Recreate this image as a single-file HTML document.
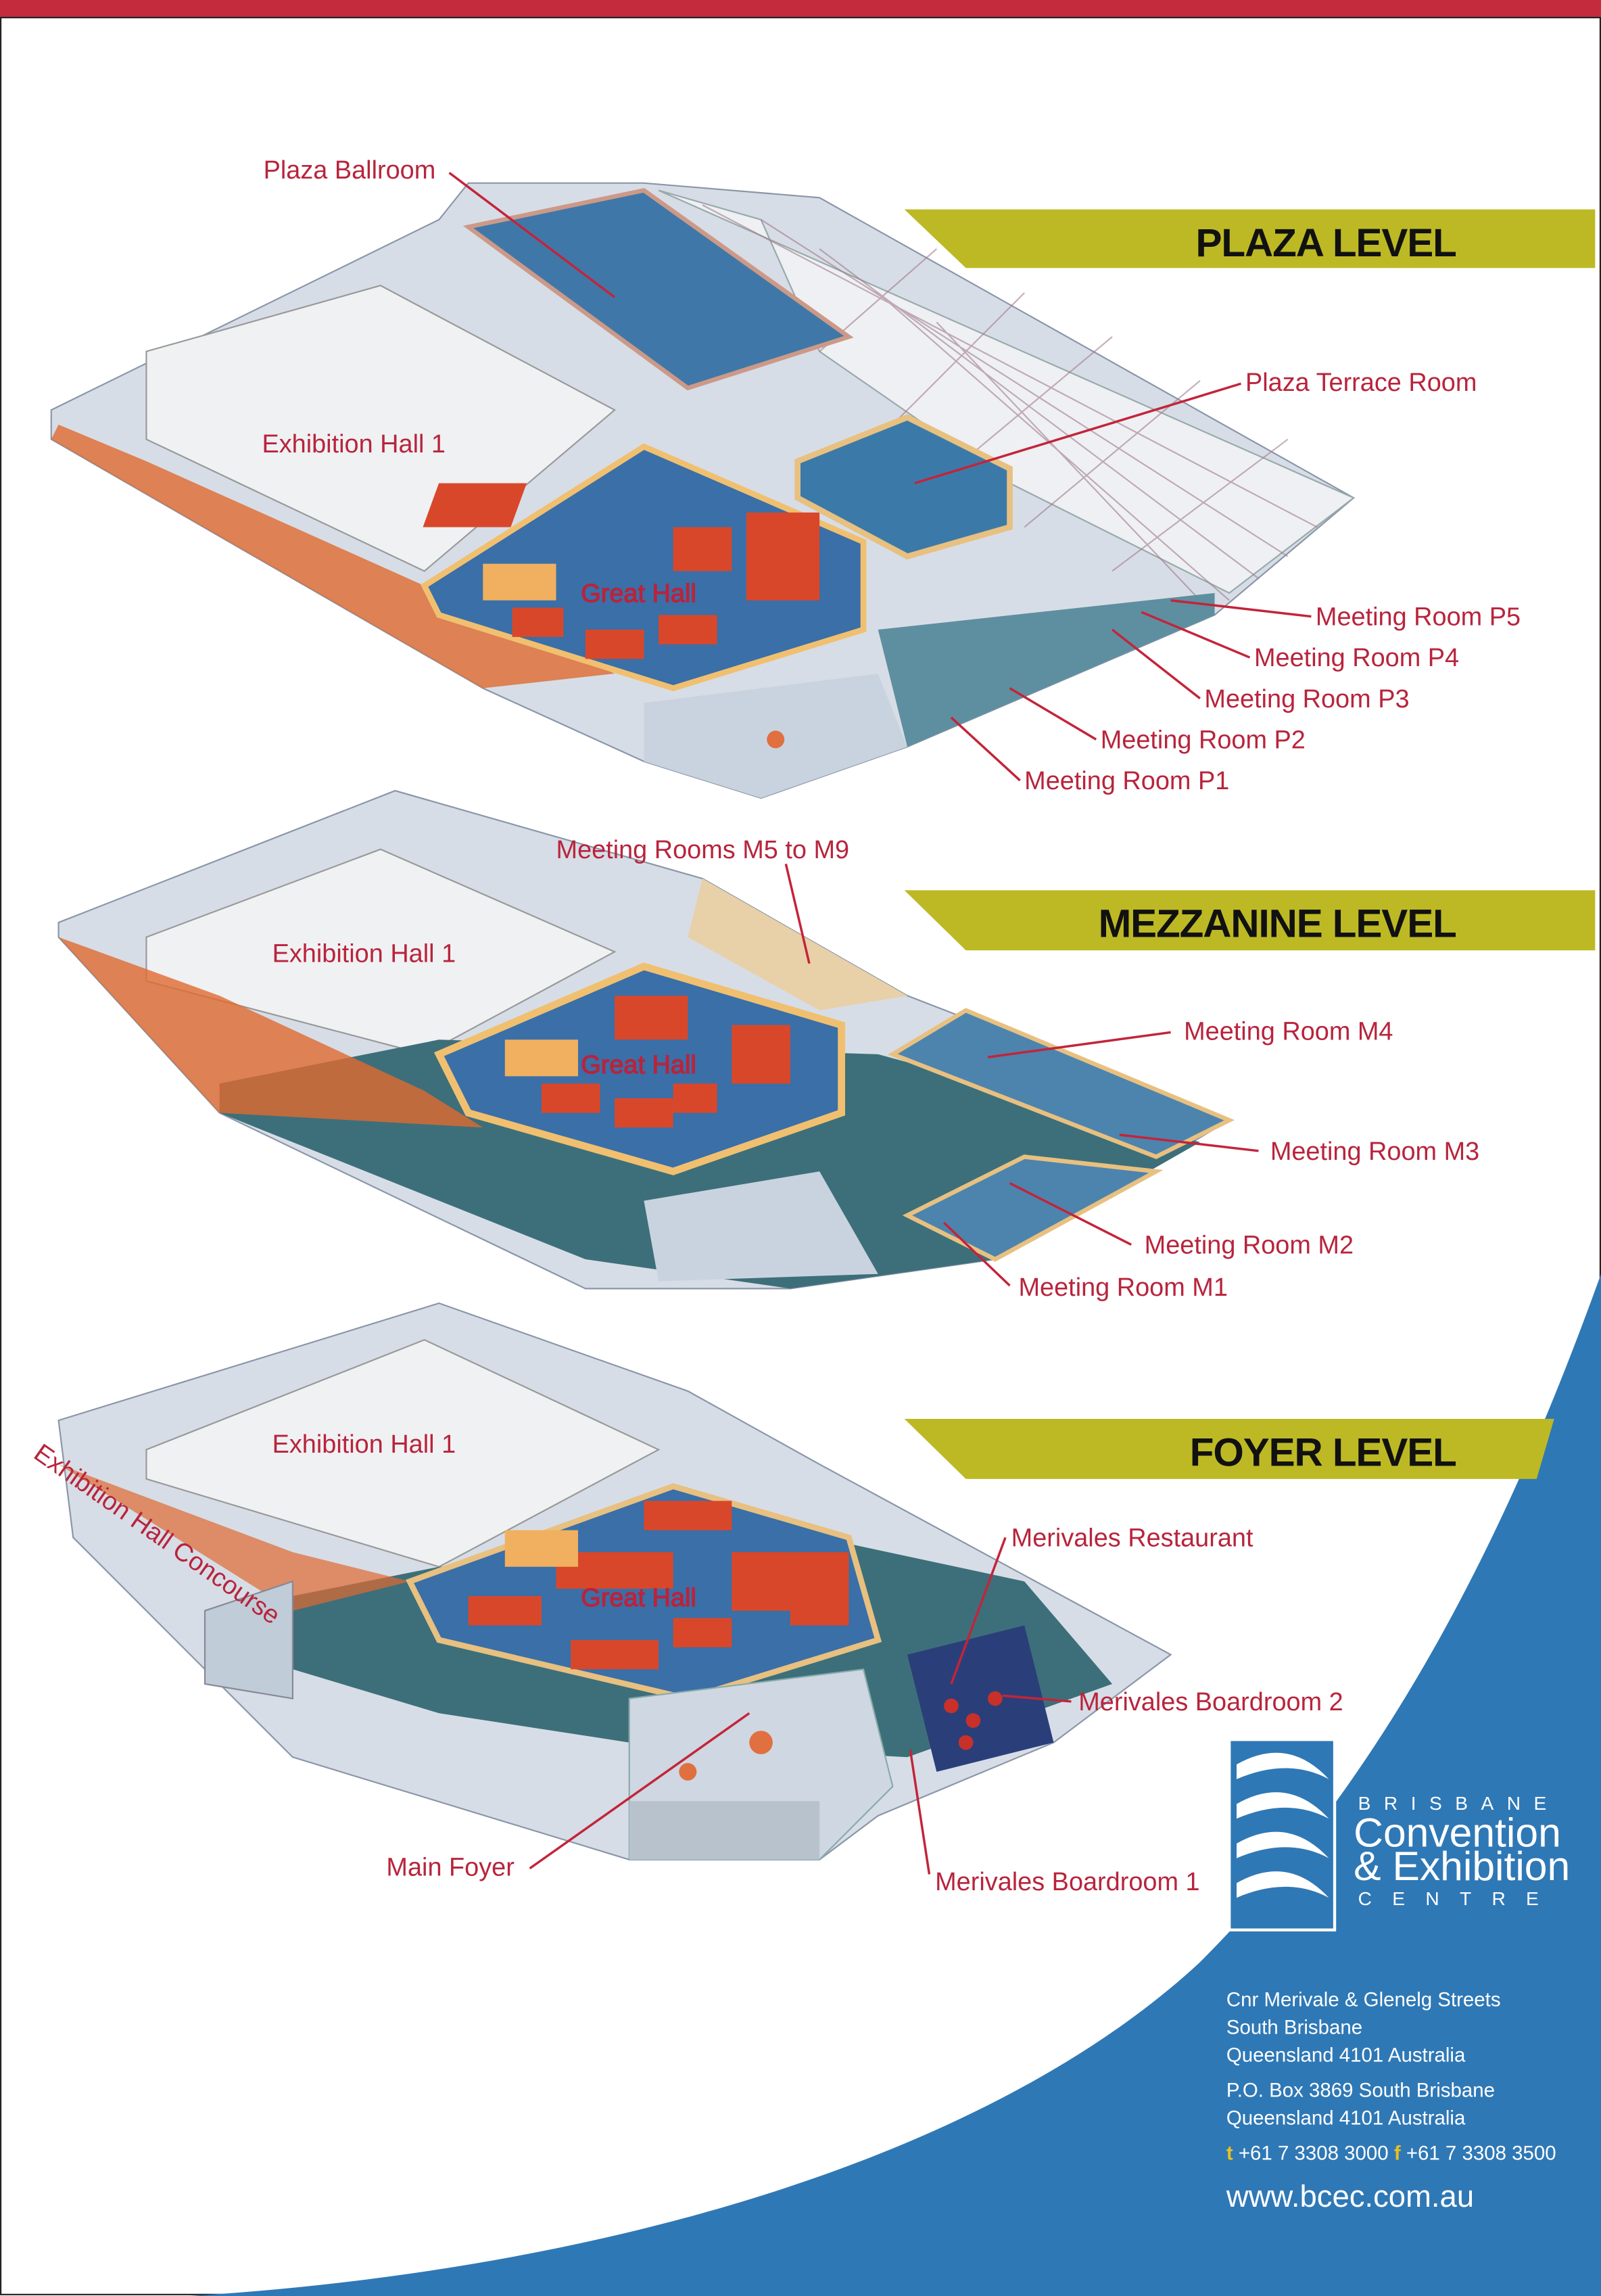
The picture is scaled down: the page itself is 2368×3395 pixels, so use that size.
<!DOCTYPE html>
<html><head><meta charset="utf-8">
<style>
html,body{margin:0;padding:0;background:#fff;}
svg{display:block;}
text{font-family:"Liberation Sans",sans-serif;}
.lbl{fill:#b8243c;font-size:17.5px;}
.ld{stroke:#c3243a;stroke-width:1.6;fill:none;}
.ban{font-weight:bold;font-size:27px;fill:#111;letter-spacing:-0.5px;}
.w{fill:#fff;}
</style></head>
<body>
<svg width="2368" height="3395" viewBox="0 0 1094 1568" preserveAspectRatio="none" xmlns="http://www.w3.org/2000/svg">
<rect x="0" y="0" width="1094" height="1568" fill="#fff"/>
<rect x="0" y="0" width="1094" height="12" fill="#c42b3d"/>
<rect x="0.5" y="12" width="1093" height="1555" fill="none" stroke="#222" stroke-width="1"/>

<path d="M1094,870 C1040,1020 960,1200 820,1340 C680,1470 420,1550 130,1568 L1094,1568 Z" fill="#2f78b6"/>

<polygon points="618,143 1090,143 1090,183 660,183" fill="#bdb924"/>
<text x="995" y="175" text-anchor="end" class="ban">PLAZA LEVEL</text>
<polygon points="618,608 1090,608 1090,649 660,649" fill="#bdb924"/>
<text x="995" y="640" text-anchor="end" class="ban">MEZZANINE LEVEL</text>
<polygon points="618,969 1062,969 1050,1010 660,1010" fill="#bdb924"/>
<text x="995" y="1001" text-anchor="end" class="ban">FOYER LEVEL</text>

<!-- PLAZA plan -->
<polygon points="35,280 300,150 320,125 440,125 560,135 925,340 830,420 620,510 520,545 440,520 330,470 35,300" fill="#d7dde6" stroke="#8a96a8"/>
<polygon points="450,130 925,340 840,405 690,330 560,240 520,150" fill="#eef0f4" stroke="#9aa" />
<g stroke="#a07a8a" stroke-width="1" opacity=".6">
<path d="M480,140 L900,360 M520,150 L880,380 M560,170 L860,395 M600,200 L840,410 M640,220 L820,410 M700,200 L600,300 M760,230 L640,330 M820,260 L700,360 M880,300 L760,390 M640,170 L560,240"/>
</g>
<polygon points="320,155 440,130 580,230 470,265" fill="#3f78a8" stroke="#c98" stroke-width="3"/>
<polygon points="100,240 260,195 420,280 290,390 100,300" fill="#f0f1f3" stroke="#999"/>
<polygon points="40,290 100,315 290,400 420,460 330,470 35,300" fill="#e06a30" opacity=".8"/>
<polygon points="290,400 440,305 590,370 590,430 460,470 300,420" fill="#3a6fa8" stroke="#f0c070" stroke-width="4"/>
<g fill="#d9472a"><rect x="420" y="330" width="60" height="30" transform="skewX(-20)"/><rect x="510" y="350" width="50" height="60"/><rect x="350" y="415" width="35" height="20"/><rect x="400" y="430" width="40" height="20"/><rect x="450" y="420" width="40" height="20"/><rect x="460" y="360" width="40" height="30"/></g>
<rect x="330" y="385" width="50" height="25" fill="#f0b060"/>
<polygon points="545,315 620,285 690,320 690,360 620,380 545,340" fill="#3b7aa8" stroke="#e8c080" stroke-width="4"/>
<polygon points="440,480 600,460 620,510 520,545 440,520" fill="#c9d3df"/>
<polygon points="600,430 830,405 830,420 620,510" fill="#5e8fa0"/>
<circle cx="530" cy="505" r="6" fill="#e07040"/>

<!-- MEZZANINE plan -->
<polygon points="40,630 270,540 480,600 620,680 840,765 680,860 540,880 400,880 150,760 40,640" fill="#d7dde6" stroke="#8a96a8"/>
<polygon points="100,640 260,580 420,650 290,720 100,670" fill="#f0f1f3" stroke="#999"/>
<polygon points="150,740 300,710 600,720 820,780 680,860 540,880 400,860 150,760" fill="#3d6f7a"/>
<polygon points="40,640 150,680 290,745 330,770 150,760" fill="#e06a30" opacity=".8"/>
<polygon points="300,720 440,660 575,700 575,760 460,800 320,760" fill="#3a6fa8" stroke="#f0c070" stroke-width="5"/>
<g fill="#d9472a"><rect x="420" y="680" width="50" height="30"/><rect x="500" y="700" width="40" height="40"/><rect x="370" y="740" width="40" height="20"/><rect x="420" y="750" width="40" height="20"/><rect x="460" y="740" width="30" height="20"/></g>
<rect x="345" y="710" width="50" height="25" fill="#f0b060"/>
<polygon points="610,720 660,690 840,765 790,790" fill="#4c84ae" stroke="#e8c080" stroke-width="3"/>
<polygon points="620,830 700,790 790,800 680,860" fill="#4c84ae" stroke="#e8c080" stroke-width="3"/>
<polygon points="480,600 620,680 560,690 470,640" fill="#e8d0a8"/>
<polygon points="440,820 560,800 600,870 450,875" fill="#c9d3df"/>

<!-- FOYER plan -->
<polygon points="40,970 300,890 470,950 560,1000 800,1130 720,1190 600,1240 560,1270 430,1270 200,1200 50,1050" fill="#d7dde6" stroke="#8a96a8"/>
<polygon points="100,990 290,915 450,990 300,1070 100,1010" fill="#f0f1f3" stroke="#999"/>
<polygon points="200,1090 300,1070 560,1050 700,1080 760,1150 620,1200 430,1190 300,1170 200,1140" fill="#3d6f7a"/>
<polygon points="40,1000 200,1060 280,1080 200,1100" fill="#e06a30" opacity=".7"/>
<polygon points="280,1080 460,1015 580,1050 600,1120 470,1160 300,1120" fill="#3a6fa8" stroke="#e8c080" stroke-width="4"/>
<g fill="#d9472a"><rect x="440" y="1025" width="60" height="20"/><rect x="380" y="1060" width="80" height="25"/><rect x="500" y="1060" width="40" height="40"/><rect x="320" y="1090" width="50" height="20"/><rect x="390" y="1120" width="60" height="20"/><rect x="460" y="1105" width="40" height="20"/><rect x="540" y="1060" width="40" height="50"/></g>
<rect x="345" y="1045" width="50" height="25" fill="#f0b060"/>
<polygon points="430,1160 590,1140 610,1220 560,1270 430,1270" fill="#cfd7e2" stroke="#8aa"/>
<rect x="430" y="1230" width="130" height="40" fill="#b8c2cc"/>
<circle cx="520" cy="1190" r="8" fill="#e07040"/><circle cx="470" cy="1210" r="6" fill="#e07040"/>
<polygon points="620,1130 700,1110 720,1190 640,1210" fill="#2a3f7a"/>
<g fill="#c8302a"><circle cx="650" cy="1165" r="5"/><circle cx="665" cy="1175" r="5"/><circle cx="680" cy="1160" r="5"/><circle cx="660" cy="1190" r="5"/></g>
<polygon points="140,1100 200,1080 200,1160 140,1150" fill="#c0ccd8" stroke="#889"/>

<!-- labels -->
<text x="180" y="122" class="lbl">Plaza Ballroom</text>
<path class="ld" d="M307,118 L420,203"/>
<text x="179" y="309" class="lbl">Exhibition Hall 1</text>
<text x="851" y="267" class="lbl">Plaza Terrace Room</text>
<path class="ld" d="M848,262 L625,330"/>
<text x="397" y="411" class="lbl" fill="#fff" stroke="#b8243c" stroke-width=".6">Great Hall</text>
<text x="899" y="427" class="lbl">Meeting Room P5</text><path class="ld" d="M896,421 L800,410"/>
<text x="857" y="455" class="lbl">Meeting Room P4</text><path class="ld" d="M854,449 L780,418"/>
<text x="823" y="483" class="lbl">Meeting Room P3</text><path class="ld" d="M820,477 L760,430"/>
<text x="752" y="511" class="lbl">Meeting Room P2</text><path class="ld" d="M749,505 L690,470"/>
<text x="700" y="539" class="lbl">Meeting Room P1</text><path class="ld" d="M697,533 L650,490"/>
<text x="380" y="586" class="lbl">Meeting Rooms M5 to M9</text><path class="ld" d="M537,590 L553,658"/>
<text x="186" y="657" class="lbl">Exhibition Hall 1</text>
<text x="397" y="733" class="lbl" fill="#fff" stroke="#b8243c" stroke-width=".6">Great Hall</text>
<text x="809" y="710" class="lbl">Meeting Room M4</text><path class="ld" d="M800,705 L675,722"/>
<text x="868" y="792" class="lbl">Meeting Room M3</text><path class="ld" d="M860,786 L765,775"/>
<text x="782" y="856" class="lbl">Meeting Room M2</text><path class="ld" d="M773,850 L690,808"/>
<text x="696" y="885" class="lbl">Meeting Room M1</text><path class="ld" d="M690,878 L645,835"/>
<text x="186" y="992" class="lbl">Exhibition Hall 1</text>
<text x="22" y="995" class="lbl" transform="rotate(35 22 995)">Exhibition Hall Concourse</text>
<text x="397" y="1097" class="lbl" fill="#fff" stroke="#b8243c" stroke-width=".6">Great Hall</text>
<text x="691" y="1056" class="lbl">Merivales Restaurant</text><path class="ld" d="M687,1050 L650,1150"/>
<text x="737" y="1168" class="lbl">Merivales Boardroom 2</text><path class="ld" d="M732,1162 L685,1158"/>
<text x="639" y="1291" class="lbl">Merivales Boardroom 1</text><path class="ld" d="M635,1280 L622,1195"/>
<text x="264" y="1281" class="lbl">Main Foyer</text><path class="ld" d="M362,1276 L512,1170"/>

<!-- logo -->
<rect x="840" y="1188" width="72" height="130" fill="#2f78b6" stroke="#fff" stroke-width="2"/>
<g fill="#fff">
<path d="M845,1205 Q880,1185 908,1215 Q880,1200 845,1215 Z"/>
<path d="M845,1232 Q880,1212 908,1242 Q880,1227 845,1242 Z"/>
<path d="M845,1259 Q880,1239 908,1269 Q880,1254 845,1269 Z"/>
<path d="M845,1286 Q880,1266 908,1296 Q880,1281 845,1296 Z"/>
</g>
<text x="928" y="1236" class="w" font-size="13" letter-spacing="9">BRISBANE</text>
<text x="925" y="1261" class="w" font-size="28">Convention</text>
<text x="925" y="1284" class="w" font-size="28">&amp; Exhibition</text>
<text x="928" y="1301" class="w" font-size="13" letter-spacing="14">CENTRE</text>

<g font-size="13.6">
<text x="838" y="1370" class="w">Cnr Merivale &amp; Glenelg Streets</text>
<text x="838" y="1389" class="w">South Brisbane</text>
<text x="838" y="1408" class="w">Queensland 4101 Australia</text>
<text x="838" y="1432" class="w">P.O. Box 3869 South Brisbane</text>
<text x="838" y="1451" class="w">Queensland 4101 Australia</text>
<text x="838" y="1475" class="w"><tspan fill="#e8c020" font-weight="bold">t</tspan> +61 7 3308 3000   <tspan fill="#e8c020" font-weight="bold">f</tspan> +61 7 3308 3500</text>
</g>
<text x="838" y="1507" class="w" font-size="21">www.bcec.com.au</text>
</svg>
</body></html>
